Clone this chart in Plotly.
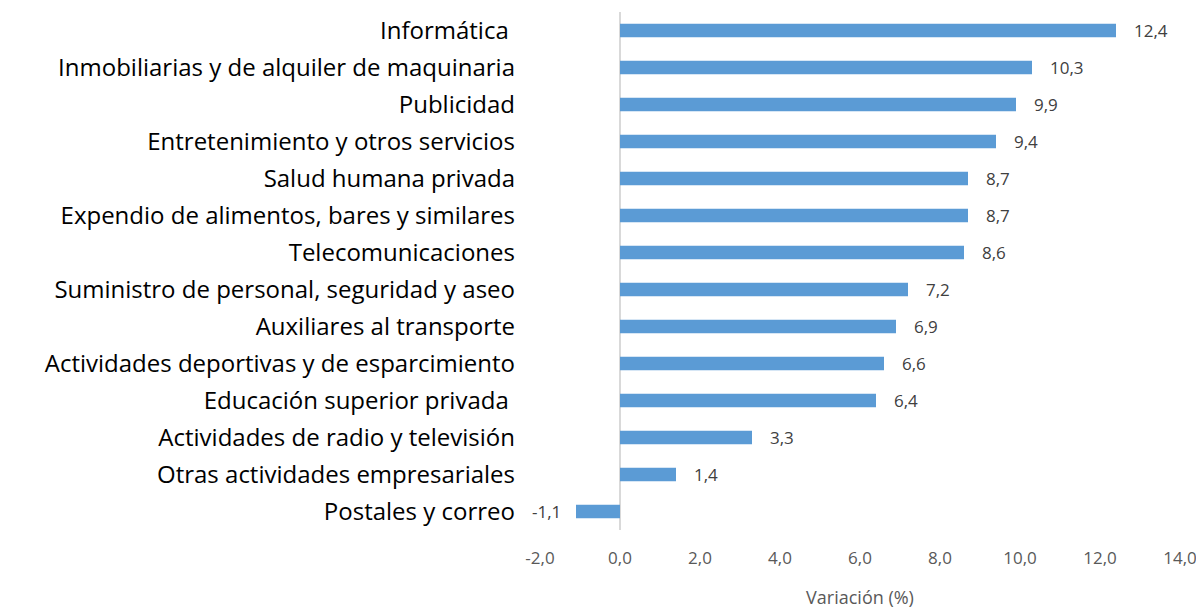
import plotly.graph_objects as go

categories = [
    "Informática ",
    "Inmobiliarias y de alquiler de maquinaria",
    "Publicidad",
    "Entretenimiento y otros servicios",
    "Salud humana privada",
    "Expendio de alimentos, bares y similares",
    "Telecomunicaciones",
    "Suministro de personal, seguridad y aseo",
    "Auxiliares al transporte",
    "Actividades deportivas y de esparcimiento",
    "Educación superior privada ",
    "Actividades de radio y televisión",
    "Otras actividades empresariales",
    "Postales y correo",
]
values = [12.4, 10.3, 9.9, 9.4, 8.7, 8.7, 8.6, 7.2, 6.9, 6.6, 6.4, 3.3, 1.4, -1.1]
x_ticks = [-2, 0, 2, 4, 6, 8, 10, 12, 14]

cats = categories[::-1]
vals = values[::-1]

def fmt(v):
    return f"{v:.1f}".replace(".", ",")

FONT = "Open Sans, sans-serif"

fig = go.Figure()
fig.add_trace(go.Bar(
    y=cats, x=vals, orientation="h",
    marker=dict(color="#5B9BD5", line=dict(width=0)),
    width=0.37,
    hoverinfo="skip",
))

for c, v in zip(cats, vals):
    fig.add_annotation(
        x=v, y=c, text=fmt(v), showarrow=False,
        xanchor="left" if v >= 0 else "right",
        xshift=16 if v >= 0 else -13,
        font=dict(family=FONT, size=17, color="#404040"),
    )

# page body has an 8px margin, so the figure is offset by 8px
fig.update_layout(
    width=1196, height=601,
    margin=dict(l=532, r=24, t=4, b=79),
    paper_bgcolor="white", plot_bgcolor="white",
    showlegend=False,
    font=dict(family=FONT),
    xaxis=dict(
        range=[-2, 14], tickvals=x_ticks, ticktext=[fmt(t) for t in x_ticks],
        showgrid=False, zeroline=True, zerolinecolor="#D9D9D9", zerolinewidth=2,
        showline=False, ticks="",
        tickfont=dict(size=17, color="#595959"),
        ticklabelstandoff=16,
        automargin=False,
        title=dict(text="Variación (%)", font=dict(size=18, color="#595959"), standoff=27),
        fixedrange=True,
    ),
    yaxis=dict(
        showgrid=False, zeroline=False, showline=False, ticks="",
        tickfont=dict(size=24, color="#000000"),
        ticklabelstandoff=24,
        automargin=False,
        range=[-0.5, len(cats) - 0.5],
        fixedrange=True,
    ),
)

fig.write_html("out.html")
